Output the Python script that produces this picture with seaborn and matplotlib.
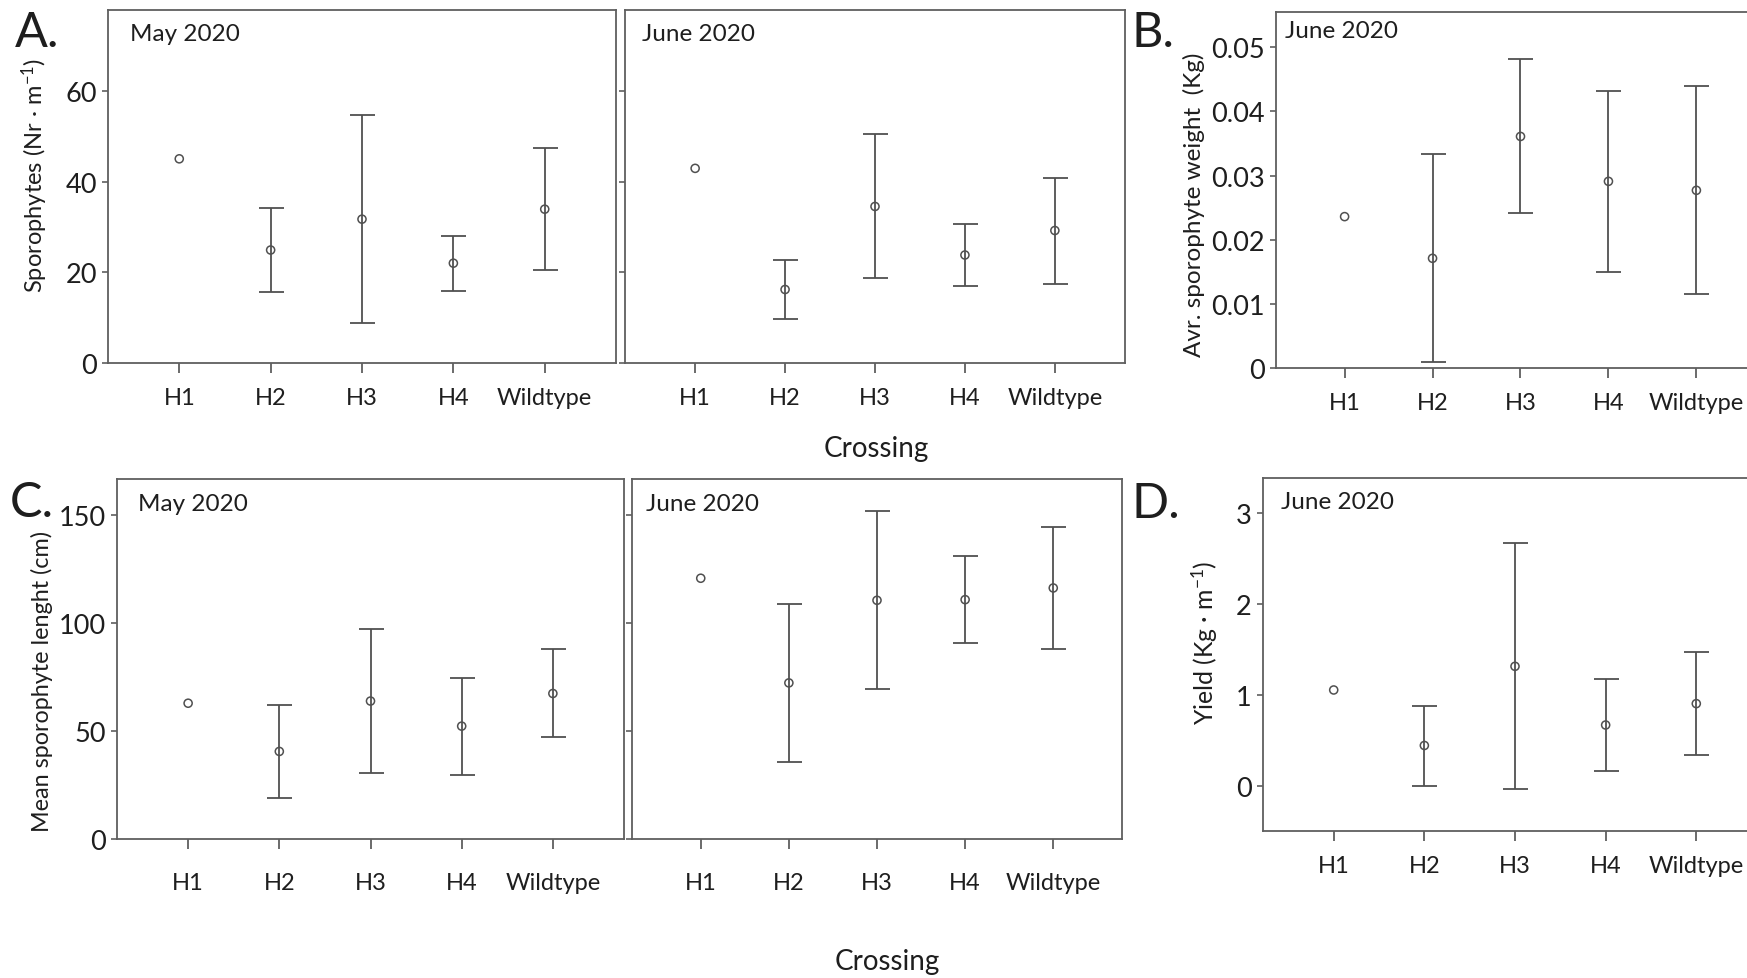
import numpy as np
import pandas as pd
import matplotlib
matplotlib.use("Agg")
import matplotlib.pyplot as plt
import seaborn as sns

# ---------------- data ----------------
crossings = ["H1", "H2", "H3", "H4", "Wildtype"]
nan = np.nan

a_may_mean = [45.0, 24.9, 31.7, 22.0, 33.9]
a_may_low = [nan, 15.7, 8.8, 15.9, 20.5]
a_may_high = [nan, 34.2, 54.6, 28.0, 47.4]

a_jun_mean = [42.9, 16.2, 34.5, 23.8, 29.2]
a_jun_low = [nan, 9.7, 18.7, 17.0, 17.5]
a_jun_high = [nan, 22.7, 50.5, 30.7, 40.8]

b_mean = [0.0236, 0.0171, 0.0361, 0.0291, 0.0277]
b_low = [nan, 0.0010, 0.0241, 0.0150, 0.0115]
b_high = [nan, 0.0333, 0.0481, 0.0432, 0.0439]

c_may_mean = [62.8, 40.5, 63.8, 52.2, 67.3]
c_may_low = [nan, 18.9, 30.6, 29.7, 47.0]
c_may_high = [nan, 62.1, 97.2, 74.5, 87.8]

c_jun_mean = [120.6, 72.2, 110.4, 110.7, 116.1]
c_jun_low = [nan, 35.4, 69.4, 90.5, 87.8]
c_jun_high = [nan, 108.9, 151.5, 130.9, 144.3]

d_mean = [1.05, 0.44, 1.31, 0.665, 0.90]
d_low = [nan, 0.0, -0.04, 0.164, 0.34]
d_high = [nan, 0.877, 2.67, 1.169, 1.469]

a_ticks = [0, 20, 40, 60]
b_ticks = [0, 0.01, 0.02, 0.03, 0.04, 0.05]
b_ticklabels = ["0", "0.01", "0.02", "0.03", "0.04", "0.05"]
c_ticks = [0, 50, 100, 150]
d_ticks = [0, 1, 2, 3]

# ---------------- style ----------------
sns.set_theme(style="white")
plt.rcParams["font.family"] = ["Lato", "DejaVu Sans"]
plt.rcParams["mathtext.fontset"] = "custom"
plt.rcParams["mathtext.rm"] = "Lato"
plt.rcParams["mathtext.it"] = "Lato"

TXT = "#1e1e1e"
LINE = "#505050"
SPINE = "#5f5f5f"
W, H = 1747, 979
fig = plt.figure(figsize=(W / 100, H / 100), dpi=100)


def add_axes(left, right, top, bottom):
    return fig.add_axes([left / W, 1 - bottom / H, (right - left) / W, (bottom - top) / H])


def panel(ax, mean, low, high, ylim, ticks, ticklabels, show_ylabels, month, txt_off, xpad):
    df = pd.DataFrame({"Crossing": crossings, "mean": mean, "low": low, "high": high})
    sns.scatterplot(data=df, x="Crossing", y="mean", ax=ax, marker="o", s=34,
                    facecolor="none", edgecolor=LINE, linewidth=1.1, zorder=3)
    eb = df.dropna()
    ax.errorbar(eb["Crossing"], eb["mean"],
                yerr=[eb["mean"] - eb["low"], eb["high"] - eb["mean"]],
                fmt="none", ecolor=LINE, elinewidth=1.3, capsize=9, capthick=1.3, zorder=2)
    ax.set_xlim(-0.78, 4.78)
    ax.set_ylim(*ylim)
    ax.set_yticks(ticks)
    ax.set_yticklabels(ticklabels)
    ax.set_xlabel("")
    ax.set_ylabel("")
    for s in ax.spines.values():
        s.set_visible(True)
        s.set_color(SPINE)
        s.set_linewidth(1.3)
    ax.tick_params(axis="x", bottom=True, direction="out", length=7, width=1.3,
                   color=SPINE, labelsize=17, labelcolor=TXT, pad=xpad)
    ax.tick_params(axis="y", left=True, direction="out", length=4, width=1.2,
                   color=SPINE, labelsize=19.5, labelcolor=TXT, pad=4,
                   labelleft=show_ylabels)
    ax.annotate(month, xy=(0, 1), xycoords="axes fraction",
                xytext=(txt_off[0], -txt_off[1]), textcoords="offset pixels",
                ha="left", va="baseline", fontsize=17.5, color=TXT)


axA1 = add_axes(108, 616, 11, 364)
axA2 = add_axes(625, 1125, 11, 364)
axB = add_axes(1276, 1765, 13, 369)
axC1 = add_axes(117, 624, 480, 840)
axC2 = add_axes(632, 1122, 480, 840)
axD = add_axes(1263, 1767, 479, 832)

panel(axA1, a_may_mean, a_may_low, a_may_high, (0, 77.8), a_ticks, [str(t) for t in a_ticks], True, "May 2020", (22, 30), 10)
panel(axA2, a_jun_mean, a_jun_low, a_jun_high, (0, 77.8), a_ticks, [str(t) for t in a_ticks], False, "June 2020", (17, 30), 10)
panel(axB, b_mean, b_low, b_high, (0, 0.0555), b_ticks, b_ticklabels, True, "June 2020", (9, 25), 10)
panel(axC1, c_may_mean, c_may_low, c_may_high, (0, 166.5), c_ticks, [str(t) for t in c_ticks], True, "May 2020", (21, 31), 17)
panel(axC2, c_jun_mean, c_jun_low, c_jun_high, (0, 166.5), c_ticks, [str(t) for t in c_ticks], False, "June 2020", (14, 31), 17)
panel(axD, d_mean, d_low, d_high, (-0.5, 3.38), d_ticks, [str(t) for t in d_ticks], True, "June 2020", (18, 30), 10)


def ftext(x, y, s, **kw):
    fig.text(x / W, 1 - y / H, s, color=TXT, **kw)


# y labels
ftext(35, 175, r"Sporophytes (Nr · m$^{\mathregular{-1}}$)", rotation=90, ha="center", va="center", fontsize=17)
ftext(1194, 205, "Avr. sporophyte weight  (Kg)", rotation=90, ha="center", va="center", fontsize=17.5)
ftext(42, 682, "Mean sporophyte lenght (cm)", rotation=90, ha="center", va="center", fontsize=16.8)
ftext(1205, 643, r"Yield (Kg · m$^{\mathregular{-1}}$)", rotation=90, ha="center", va="center", fontsize=17.8)

# x labels
ftext(876, 449, "Crossing", ha="center", va="center", fontsize=20)
ftext(887, 962, "Crossing", ha="center", va="center", fontsize=20)

# panel letters
ftext(15, 47, "A.", ha="left", va="baseline", fontsize=35)
ftext(1132, 47, "B.", ha="left", va="baseline", fontsize=35)
ftext(10, 517, "C.", ha="left", va="baseline", fontsize=35)
ftext(1132, 518, "D.", ha="left", va="baseline", fontsize=35)

fig.savefig("out.png", dpi=100, facecolor="white")
